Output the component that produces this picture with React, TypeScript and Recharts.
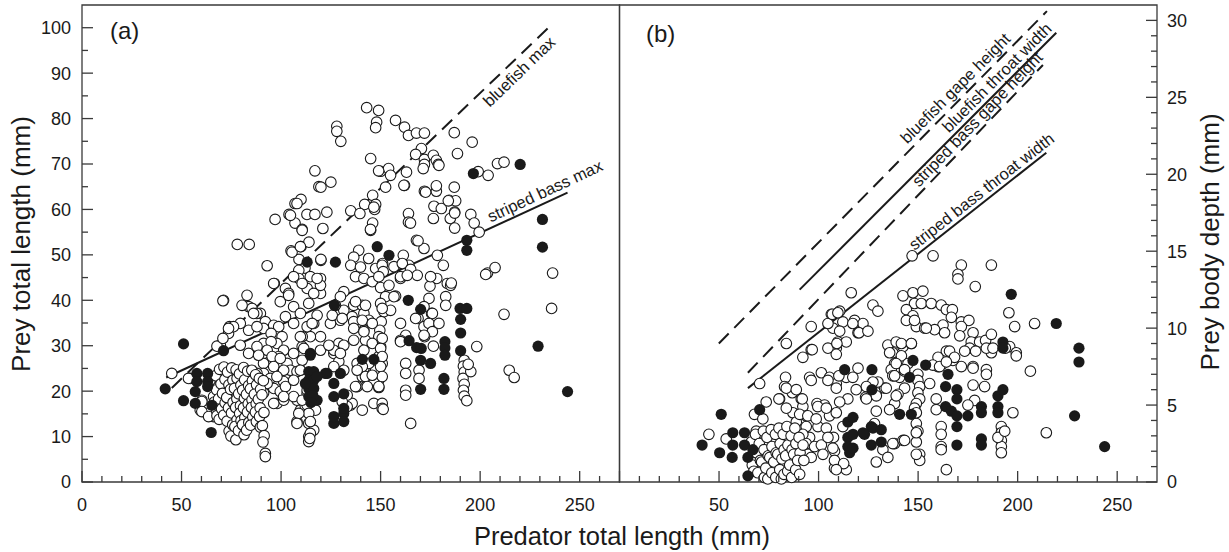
import React from "react";
import { ScatterChart, Scatter, XAxis, YAxis, ReferenceLine, ReferenceArea } from "recharts";

const W = 1229;
const H = 552;
const INK = "#1a1a1a";
const AX = "#3a3a3a";
const FONT = "'Liberation Sans', Arial, Helvetica, sans-serif";

// ticks
const xTicks = [0, 10, 20, 30, 40, 50, 60, 70, 80, 90, 100, 110, 120, 130, 140, 150, 160, 170, 180, 190, 200, 210, 220, 230, 240, 250, 260];
const xMajors = [0, 50, 100, 150, 200, 250];
const xLabelsA = [0, 50, 100, 150, 200, 250];
const xLabelsB = [50, 100, 150, 200, 250];
const yTicksA = [0, 5, 10, 15, 20, 25, 30, 35, 40, 45, 50, 55, 60, 65, 70, 75, 80, 85, 90, 95, 100];
const yLabelsA = [0, 10, 20, 30, 40, 50, 60, 70, 80, 90, 100];
const yTicksB = [0, 1, 2, 3, 4, 5, 6, 7, 8, 9, 10, 11, 12, 13, 14, 15, 16, 17, 18, 19, 20, 21, 22, 23, 24, 25, 26, 27, 28, 29, 30];
const yLabelsB = [0, 5, 10, 15, 20, 25, 30];

// (a) prey total length vs predator total length
const aOpen = [
  [117, 68.5], [119, 65], [107, 61.3], [110, 62.2], [97, 57.8], [104, 58.9], [107, 57], [110.6, 55.6], [113, 58.9], [117, 58.9],
  [78, 52.3], [84, 52.3], [105, 50.9], [110, 51.8], [114, 52.8], [93, 47.6], [109, 49], [112, 47.1], [120, 48.8],
  [143, 82.4], [149, 81.8], [128, 78.3], [128, 77.2], [130, 75], [148, 79.2], [147.5, 78], [157.5, 79.6], [162, 78.1], [164, 76.3],
  [168, 76.8], [172, 76.8], [187, 76.9], [196, 74.8], [170.5, 73.4], [167.6, 72.1], [172, 71], [176.5, 71.9], [178, 70.8], [179, 69.9],
  [172, 69.9], [171.4, 69], [188.6, 72.3], [145, 71.2], [125, 66], [120, 64.9], [150, 68.4], [154, 69], [155, 67.5], [163, 68.2],
  [162, 65.3], [152.5, 64.9], [146, 63.1], [142, 61.1], [147.5, 61.1], [147, 60], [135, 59.7], [139.6, 59.1], [123, 59.4], [110.6, 55.4],
  [121, 55.8], [146, 57], [145, 55.4], [164, 59.1], [164, 57.2], [172, 64], [178, 64], [178, 65.2], [187, 64.9], [184.4, 62],
  [187.7, 61.9], [176.8, 60.7], [180.5, 60.2], [187.2, 59.4], [176.5, 58], [185, 58], [187.2, 55.9], [195.3, 58.9], [197, 57], [199.5, 55],
  [199, 68.3], [204, 67.5], [208.7, 70.1], [212, 70.4], [236.4, 46], [203.7, 46], [207.5, 47.2], [168, 53.2], [171.8, 51.4], [178.5, 49.9],
  [181.5, 47.7], [164.2, 47.7], [161.4, 49.9], [120, 49], [139, 51], [136.5, 49.5], [135, 47.7], [144, 49.2], [151, 48.1], [156.7, 47.4],
  [149, 68.5], [179.3, 69.7], [161.7, 65.3], [172.6, 63.8], [184, 61.9], [187.2, 59.2], [165, 57], [146.6, 60.5], [144.9, 55.6], [168.8, 53.1],
  [139.9, 47.3], [137.4, 45.2], [141.6, 44.8], [145.8, 44.1], [147.5, 47], [150.8, 47.7], [151.3, 46.3], [149.1, 45.2], [160.9, 48.1], [165.1, 46.8],
  [168.4, 45.5], [160, 44.8], [157.5, 40.9], [150, 42.8], [152.5, 40.8], [150, 39.3], [151.7, 37.5], [150.3, 35.3], [149.6, 33.4], [149.1, 32],
  [150, 29.8], [149.1, 27.6], [150.8, 26.1], [147.5, 24.6], [149.1, 22.4], [149.1, 20.8],
  [114.7, 45.2], [119.8, 44.8], [119.8, 41.5], [131.5, 41.9], [136.5, 38.9], [140.8, 38.9], [131.5, 37.8], [135.7, 36.4], [141.6, 37.1], [144.1, 35.6],
  [141.6, 33.4], [136.5, 35.3], [129.8, 35.6], [124.8, 34.9], [116.4, 34.9], [118.1, 36.7], [125.7, 36.7],
  [129, 30.5], [131.5, 30.1], [136.5, 31.2], [142.4, 31.2], [145.8, 30.5], [141.6, 29],
  [126.5, 28.3], [129, 26.5], [131.5, 24.6], [138.2, 26.1], [141.6, 25], [144.1, 26.1], [143.3, 22.4], [146.6, 22.4], [138.2, 21], [140.8, 23.2],
  [146.6, 17.3], [150.8, 17.3], [150.8, 16.2], [134.9, 16.9],
  [160, 34.9], [162.6, 32.3], [168.8, 36], [171.8, 34.2], [174.3, 34.9], [176, 33.1], [179.3, 34.9], [172.1, 32],
  [174.3, 40.4], [175.6, 37.1], [183.5, 43.7], [182.7, 40.8], [182.7, 38.9], [185.2, 43.3], [178.2, 44.8], [174.8, 43.1],
  [192, 26.8], [191.6, 25.5], [192, 24.2], [191.4, 22.8], [192, 21.5], [191.6, 20.2], [192, 18.9], [195.3, 24.3], [194, 25.9], [193.3, 17.9],
  [162.6, 26.1], [162.6, 23.9], [169.3, 24.6], [169.3, 22.8], [162.6, 20.2], [162.6, 19.1], [165.1, 12.9], [198.3, 29.8], [160, 31.2], [155, 37.8],
  [156.7, 40.8], [154.2, 43.3], [160, 45.2], [163.4, 45.5], [175.1, 45.2], [185.5, 43.8],
  [202.8, 45.7], [212, 36.9], [235.9, 38.2], [214.6, 24.6], [217.1, 23], [176.5, 29.9], [167.6, 36], [171.8, 38.6], [176, 37.1], [171.8, 32.3],
  [160, 30.9], [151.3, 16], [109.7, 15.8], [113.9, 12.9], [113.9, 10], [113.9, 8.9], [117.3, 15.8], [116.4, 11.4],
  [129.8, 40.8], [127.3, 38.9], [130.7, 36], [137.4, 39.7], [142.4, 38.9], [140.8, 35.6], [136.5, 33.8], [141.6, 33.1], [145.8, 34.9], [150.8, 38.2],
  [150.8, 31.6], [150, 29.4], [150.8, 27.6], [150, 25.4], [150.8, 23.2], [149.1, 21], [140.8, 25.4], [142.4, 23.2], [137.4, 21], [145.8, 23.5],
  [143.3, 21], [138.2, 24.6], [126.5, 29], [129.8, 28.3], [126.5, 25.4], [119.8, 29], [124, 30.1], [119.8, 32], [112.2, 16.6], [135.7, 17.3],
  [140.8, 15.8], [133.2, 16.6], [133.2, 19.1], [130.7, 17.7], [119.8, 43.3],
  [104.7, 58.7], [108, 61.3], [105.5, 50.6], [109.7, 51.8], [108.9, 46.6], [108.9, 44.8], [113.1, 42.6], [118.1, 44.8], [96.6, 43.7], [102.2, 42.6],
  [103.8, 41.5], [71.1, 40], [82.9, 41.1], [83.7, 38.6], [89.6, 37.1], [92.1, 35.3], [91.2, 33.8], [96.3, 34.5], [98.8, 34.2], [74.1, 34.2],
  [73.6, 32.7], [69.5, 30.1], [79.5, 34.9], [85.4, 38.2], [87.9, 37.1],
  [91.2, 30.5], [91.2, 28.3], [91.2, 26.1], [91.2, 23.9], [91.2, 21.7], [91.2, 19.6],
  [100.5, 32], [97.9, 30.5], [101.3, 29], [98.8, 27.6], [103, 26.1], [106.3, 28.3], [110.6, 29.8], [104.7, 24.6], [110.6, 26.8], [108, 24.3],
  [114.7, 32], [113.1, 34.2], [110.6, 32],
  [87.9, 23.9], [94.6, 22.8], [96.3, 20.6], [101.3, 22.1], [99.6, 19.9], [98, 17.3], [101.3, 18], [108, 18], [113.1, 19.5], [113.1, 16.9],
  [113.9, 15.1], [114.7, 13.3], [114.7, 10.7], [114.4, 9.6], [108, 13.3], [108.9, 15.1], [92.1, 6.3], [92.1, 5.6],
  [45.1, 23.9], [54.4, 22.8], [60.2, 18], [59.4, 15.8], [62.8, 15.1], [66.9, 18.8], [67.8, 16.2], [66.1, 14.4],
  [95, 32.7], [95, 30.9], [93, 29], [95.5, 27.6], [96.3, 25.4], [99.6, 27.2], [101.3, 24.6], [97.9, 23.2], [102.2, 21], [106.3, 22.4],
  [109.7, 24.6], [106.3, 18.8], [110.6, 18], [113.1, 20.2], [101.3, 18.8], [96.3, 17.3], [93, 21.7], [108, 12.9],
  [96.3, 43.7], [99.6, 39.7], [103.8, 41.1], [106.3, 38.6], [102.2, 36.4], [106.3, 34.9], [109.7, 32], [111.4, 29.4], [115.6, 34.9], [109.7, 37.1],
  [113.9, 39.3], [116.4, 41.5], [110.6, 43.7], [106.3, 45.2],
  [86.2, 37.1], [83.7, 33.4], [87.9, 34.2], [76.1, 34.2], [80.4, 38.9], [70.8, 39.9], [67.8, 29.9], [70.8, 31.6], [79.5, 30.1], [83.7, 28.3],
  [87.9, 29.8], [88.7, 27.9], [53.5, 22.8], [60.2, 17.7], [60.2, 15.5], [63.6, 14.4], [64.4, 22.4], [66.1, 18.8], [69.5, 22.4], [67.8, 15.5],
  [70.3, 17.3], [74.5, 19.1], [72.8, 15.5], [73.6, 33.8],
  [67.2, 23.4], [67.6, 20.3], [66.5, 17.6], [67.8, 14.6], [69.1, 24.8], [69.8, 21.6], [68.6, 18.3], [70.1, 16.1], [68.9, 13.8],
  [71.3, 25.3], [71.8, 22.6], [70.6, 19.5], [71.9, 17.4], [71.2, 14.7], [73.1, 24.2], [73.8, 21.4], [72.7, 18.6], [73.6, 16.3], [72.9, 13.4], [73.9, 11.2],
  [75.2, 25.1], [75.8, 22.4], [74.6, 20.4], [75.9, 17.5], [75.1, 15.2], [75.7, 12.6], [74.8, 10.1], [77.4, 24.7], [77.9, 22.8], [76.6, 20.6], [77.8, 18.3],
  [77.2, 16.4], [77.9, 13.7], [76.8, 12.2], [77.3, 9.3], [79.1, 23.8], [79.8, 21.3], [78.7, 19.4], [79.6, 16.8], [79.2, 15.1], [79.9, 13.5], [78.6, 11.3],
  [81.2, 25.2], [81.7, 22.5], [80.7, 20.2], [81.6, 18.4], [81.1, 16.3], [81.8, 14.2], [80.6, 12.6], [81.4, 10.4], [83.2, 24.4], [83.7, 21.2], [82.6, 19.3],
  [83.5, 17.2], [83.1, 15.4], [83.8, 13.1], [82.7, 11.4], [85.3, 24.6], [85.6, 22.3], [84.6, 20.5], [85.4, 18.1], [85.1, 16.4], [85.8, 14.3], [84.7, 12.5],
  [87.2, 23.6], [87.7, 21.4], [86.6, 19.3], [87.5, 17.2], [87.1, 15.4], [87.6, 13.3], [89.1, 22.8], [89.7, 20.4], [88.6, 18.2], [89.5, 16.3], [89.2, 14.4], [89.6, 12.1],
  [91.1, 22.3], [90.4, 19.2], [91.4, 15.3], [90.6, 12.4], [91.5, 10.2], [90.9, 8.8],
];

const aFilled = [
  [113.1, 48.4], [127.3, 48.4], [148.3, 51.8], [154.2, 49.9], [196.6, 67.9], [220.1, 69.9], [231.3, 57.8], [231.3, 51.7], [193.3, 53.2], [193.3, 51],
  [126.8, 38.9], [163.9, 40], [170.1, 38], [164.3, 31.1], [168.1, 29.6], [170.4, 29.4], [170.1, 26.8], [175.1, 26.1], [170.1, 20.4], [182.3, 30.9],
  [182.3, 29.5], [182.3, 27.9], [181.8, 22.8], [181.8, 20.4], [189.9, 38.2], [190.2, 35.8], [190.2, 32.8], [190.2, 28.9], [193.3, 38.2], [229.1, 29.9],
  [243.9, 19.9], [126.5, 12.9], [126.5, 14.4], [131.5, 15.1], [131.5, 16.2], [131.5, 13.3], [126.5, 21.7], [126.5, 18.8], [131.5, 19.4], [129.8, 23.9],
  [122.3, 23.9], [114.7, 28.3], [140.8, 27], [146.6, 27], [123.1, 23.9],
  [113.9, 24.3], [116.4, 24.3], [113.9, 22.4], [116.4, 22.4], [113.9, 20.6], [116.4, 20.6], [118.1, 18], [113.9, 18.8], [112.2, 21.7], [118.1, 23.2],
  [116, 19], [115, 17.5], [51, 30.4], [41.8, 20.5], [51, 17.9], [57.7, 23.9], [63.1, 23.9], [57.7, 22.1], [63.1, 22.1], [56.9, 19.9],
  [63.1, 21], [56.9, 17.3], [65.3, 16.9], [71.1, 28.9], [64.9, 10.9], [114.7, 27.9],
];

const aBluefishMax = [[45.1, 20.7], [235.5, 100.5]];
const aStripedBassMax = [[42.3, 23.0], [243.9, 63.7]];
const aNoteText = ["bluefish max", "striped bass max"];
const aNoteAt = [[219.5, 90.4], [232.5, 64.1]];
const aNoteAngle = [-44, -25];

// (b) prey body depth vs predator total length
const bOpen = [
  [116.4, 12.3], [127.3, 11.5], [129.8, 11.1], [142.4, 12.1], [147.4, 12.3], [148.2, 11.6], [152.4, 12.4], [151.6, 11.6], [144.1, 11.2], [147.4, 10.8],
  [144.1, 10.5], [149.1, 10.1], [153.3, 10], [147, 14.7], [157.5, 14.7], [171.7, 14.1], [170, 13.5], [186.8, 14.1], [170, 13.2], [178.7, 12.7],
  [156.6, 11.6], [161.6, 11.5], [164.2, 11.2], [167.2, 11.2], [195.6, 11], [208.5, 10.3], [198.5, 10.1], [166.7, 10.7], [171.7, 10.4], [175.5, 10.5],
  [171.7, 10.1], [162.5, 10.2], [158.3, 9.9], [154.1, 10], [148.2, 10.5],
  [177.6, 9.7], [176.7, 9.1], [175.9, 8.7], [180.9, 9.1], [183.9, 9.2], [186.8, 9.6], [186.8, 8.4], [184.3, 8.7], [178.9, 8.5], [196, 8.8],
  [199.3, 8.4], [199.3, 8.2], [206.4, 7.2], [184.3, 7.3], [184.3, 7], [177.6, 7.5], [171.7, 7.5], [167.5, 7.9], [164.2, 8.5], [160, 7.5],
  [162.5, 7.7], [170.9, 9.5], [163.3, 9.7], [187.6, 8.7], [193.8, 8.7], [173.4, 8.5], [165.8, 8.5], [168.3, 8.1], [160, 8.1],
  [134.8, 8.9], [139, 9.1], [142.4, 8.8], [146.6, 9], [137.3, 8.4], [141.6, 8.2], [144.9, 7.7], [138.2, 7.7], [136.5, 7.3], [137.3, 6.9],
  [140.7, 6.8], [143.2, 7.2], [149.9, 7], [149.9, 6.6], [150.8, 6.2], [149.9, 5.8], [150.8, 5.4], [149.1, 5.1], [148.2, 4.8], [149.1, 3.8],
  [149.9, 3.3], [149.1, 2.6], [150.8, 1.8], [150.8, 1.4], [143.2, 6.1], [139.9, 5.7], [138.2, 5.1], [135.7, 4.7], [129, 5.8], [133.2, 6.1],
  [129.8, 6.5], [129, 4.6], [128.1, 3.8], [132.3, 2.1], [129, 1.3], [134.8, 1.6], [138.2, 2.5], [142.4, 2.7], [155.8, 6.4], [159.1, 5.4],
  [159.1, 4.7], [161.6, 3.6], [161.6, 3.1], [161.6, 2.3], [161.6, 2.1], [157.4, 7.6], [160.8, 7.5], [164.2, 7.8], [177.6, 7.4], [183.4, 6.2],
  [177.6, 6.3], [178.4, 5.3], [175, 5], [191.8, 3.6], [191.8, 3.2], [191.8, 2.7], [191.8, 2.3], [191.8, 1.9], [190.1, 2.9], [193.5, 3.3],
  [197.6, 4.5], [214.4, 3.2], [164.2, 0.8],
  [106.4, 10.9], [110.6, 11.1], [112.2, 10.4], [118.1, 10.5], [122.3, 10.3], [119.8, 9.7], [107.2, 10], [110.6, 9.8], [109.7, 9.1], [113.9, 9.1],
  [108.9, 8.7], [104.7, 8.7], [96.3, 10.1], [104.7, 10.3], [83.8, 9], [92.1, 8.1], [96.3, 8.6], [95.5, 6.8], [101.4, 7.1], [105.5, 6.8],
  [108.9, 6.4], [113.9, 6.8], [119.8, 7.4], [127.3, 6.5], [124, 6.2], [129, 5.6], [134, 6.1], [123.6, 5.5], [141.6, 9], [146.6, 9],
  [135.7, 8.4], [139, 7.7], [143.2, 7.3], [138.2, 6.9], [139, 5.6], [137.3, 2.5], [143.2, 2.7], [149.1, 4.5], [149.1, 3.2], [149.1, 1.8],
  [44.9, 3.1], [53.6, 2.8], [70.4, 6.4], [73.7, 5.2], [67.8, 4.4], [72, 4.1], [83.4, 6.8], [82.9, 6.2], [86.8, 5.8], [80.4, 5.4],
  [91.3, 5.4], [92.1, 4.9], [87.1, 4.5], [88.8, 3.9], [93.8, 4.3], [93.8, 3.6], [99.2, 5.1], [103, 5], [95.5, 2.9], [99.7, 3.6],
  [105.5, 4.3], [103.9, 3.5], [107.5, 2.9], [112.2, 3.6], [108, 2], [108, 0.9], [113.9, 0.8], [94.6, 1.8], [71.2, 3.2], [77, 2.9],
  [96.8, 8.6], [106.9, 10.9], [109.7, 11], [117.2, 10.3], [120.3, 9.7], [124.8, 9.8], [109.2, 9], [108.9, 8.3], [96.3, 6.6], [104.7, 6.6],
  [110.2, 6.9], [117.2, 6.8], [108.9, 6.1], [114.7, 5.4], [118.9, 6], [124, 5.4], [83.8, 6.1], [88.8, 6], [91.8, 5.4], [80.1, 5.4],
  [83.8, 4.8], [90.5, 4.4], [94.6, 4.3], [98.8, 4.1], [99.6, 4.9], [103.9, 4.8], [108.9, 4.5], [110.6, 5.2], [68.7, 3.3], [92.1, 3.1],
  [93.8, 2.5], [98, 2.3], [101.4, 2.4], [104.7, 2.9], [107.2, 2.2], [108, 1.4], [112.6, 1.2], [108.9, 0.8], [102.2, 1.8], [96.3, 1.6],
  [87.9, 1], [89.6, 0.5],
  [66.2, 2.6], [66.7, 1.1], [68.3, 3.1], [68.7, 1.9], [67.5, 0.7], [70.2, 2.5], [70.8, 1.4], [69.5, 0.6], [72.3, 3.3], [72.6, 2.1], [71.4, 1.3],
  [72.8, 0.3], [74.1, 2.9], [74.7, 1.7], [73.5, 0.9], [74.5, 0.2], [76.2, 3.4], [76.6, 2.3], [75.5, 1.6], [76.5, 0.6], [78.3, 3.1], [78.7, 1.9],
  [77.5, 1.3], [78.5, 0.3], [80.1, 3.5], [80.7, 2.5], [79.5, 1.8], [80.5, 0.8], [81.3, 0.2], [82.2, 3.1], [82.7, 2.1], [81.6, 1.5], [82.6, 0.5],
  [84.1, 3.6], [84.6, 2.4], [83.5, 1.7], [84.5, 0.7], [86.2, 3], [86.7, 2.1], [85.5, 1.1], [86.5, 0.3], [88.1, 3.5], [88.6, 2.5], [87.5, 1.8],
  [88.5, 0.8], [90.2, 2.9], [90.7, 1.9], [89.5, 1.4], [90.5, 0.5], [92.2, 2.4], [92.6, 1.4],
];

const bFilled = [
  [51.1, 4.4], [41.5, 2.4], [50.3, 1.9], [56.9, 3.2], [62.8, 3.2], [56.9, 2.4], [62.8, 2.4], [56.6, 1.6], [64.5, 1.6], [67, 2.1],
  [64.5, 0.4], [70.4, 4.7], [113.1, 7.3], [126.8, 7.3], [126.8, 6], [114.7, 3.9], [114.7, 2.9], [114.7, 2.3], [115.6, 1.9], [117.3, 4.2],
  [117.3, 3.1], [117.3, 2.2], [123.1, 3.1], [127.3, 3.5], [126.5, 2.4], [126.5, 3.6], [131.5, 3.4], [131.5, 2.6], [122.3, 3.2], [140.7, 4.4],
  [146.6, 4.4], [147.4, 7.9], [153.8, 7.6], [145.7, 6.8], [165, 7], [163.8, 6.2], [169.5, 6], [169.5, 5.4], [163.8, 4.9], [166.7, 4.6],
  [169.5, 4.3], [169.5, 3.6], [175, 4.3], [181.8, 4.9], [181.8, 4.5], [181.8, 2.8], [181.8, 2.4], [169.5, 2.4], [190.1, 5.6], [190.1, 4.9],
  [190.1, 4.5], [192.6, 6], [192.6, 9.1], [192.6, 8.7], [196.8, 12.2], [219.4, 10.3], [230.8, 8.7], [230.8, 7.8], [228.6, 4.3], [243.7, 2.3],
];

const bBluefishGape = [[49.9, 9.0], [214.7, 30.6]];
const bBluefishThroat = [[90.5, 12.5], [219.4, 29.2]];
const bStripedGape = [[64.5, 7.1], [212.7, 27.1]];
const bStripedThroat = [[64.5, 6.1], [214.4, 21.4]];
const bNoteText = ["bluefish gape height", "bluefish throat width", "striped bass gape height", "striped bass throat width"];
const bNoteAt = [[168.6, 25.6], [189.4, 26.3], [179.6, 23.6], [181.7, 18.9]];
const bNoteAngle = [-45, -45, -46, -38];

const pts = (a: number[][]) => a.map(([x, y]) => ({ x, y }));
const notes = (t: string[], at: number[][], ang: number[]) =>
  t.map((text, i) => ({ x: at[i][0], y: at[i][1], text, angle: ang[i] }));

const openDot = (p: any) => <circle cx={p.cx} cy={p.cy} r={5.3} fill="#fff" stroke={INK} strokeWidth={1.1} />;
const fillDot = (p: any) => <circle cx={p.cx} cy={p.cy} r={5.6} fill={INK} />;
const noteShape = (p: any) => {
  const d = p.payload;
  return (
    <text x={p.cx} y={p.cy} transform={`rotate(${d.angle} ${p.cx} ${p.cy})`} textAnchor="middle" dominantBaseline="central"
      fontSize={16.5} fontFamily={FONT} fill={INK}>{d.text}</text>
  );
};

const tickFn = (side: "left" | "right" | "bottom", majors: number[], labels: number[]) => (p: any) => {
  const v = p.payload?.value;
  const len = majors.includes(v) ? 11 : 6;
  const show = labels.includes(v);
  const txt = { fontSize: 18, fontFamily: FONT, fill: INK };
  if (side === "bottom") {
    return (
      <g>
        <line x1={p.x} x2={p.x} y1={p.y} y2={p.y - len} stroke={AX} strokeWidth={1.3} />
        {show && <text x={p.x} y={p.y + 29} textAnchor="middle" {...txt}>{v}</text>}
      </g>
    );
  }
  if (side === "left") {
    return (
      <g>
        <line x1={p.x} x2={p.x + len} y1={p.y} y2={p.y} stroke={AX} strokeWidth={1.3} />
        {show && <text x={p.x - 11} y={p.y} dy="0.36em" textAnchor="end" {...txt}>{v}</text>}
      </g>
    );
  }
  return (
    <g>
      <line x1={p.x} x2={p.x - len} y1={p.y} y2={p.y} stroke={AX} strokeWidth={1.3} />
      {show && <text x={p.x + 10} y={p.y} dy="0.36em" textAnchor="start" {...txt}>{v}</text>}
    </g>
  );
};

const lineStyle = { stroke: INK, strokeWidth: 2, ifOverflow: "visible" as const };
const DASH = "14 8";

function PanelA() {
  return (
    <ScatterChart width={W} height={H} margin={{ top: 5, right: 609.5, bottom: 0, left: 0 }}>
      <XAxis dataKey="x" type="number" domain={[0, 270]} ticks={xTicks} interval={0} height={70} axisLine={false}
        tickLine={false} tickSize={0} tickMargin={0} tick={tickFn("bottom", xMajors, xLabelsA)} />
      <YAxis dataKey="y" type="number" domain={[0, 105]} ticks={yTicksA} interval={0} width={82} axisLine={false}
        tickLine={false} tickSize={0} tickMargin={0} tick={tickFn("left", yLabelsA, yLabelsA)} />
      <ReferenceArea x1={0} x2={270} y1={0} y2={105} fill="none" fillOpacity={0} stroke={AX} strokeWidth={1.3} />
      <Scatter data={pts(aOpen)} shape={openDot} isAnimationActive={false} />
      <Scatter data={pts(aFilled)} shape={fillDot} isAnimationActive={false} />
      <ReferenceLine segment={pts(aBluefishMax)} {...lineStyle} strokeDasharray={DASH} />
      <ReferenceLine segment={pts(aStripedBassMax)} {...lineStyle} />
      <Scatter data={notes(aNoteText, aNoteAt, aNoteAngle)} shape={noteShape} isAnimationActive={false} />
    </ScatterChart>
  );
}

function PanelB() {
  return (
    <ScatterChart width={W} height={H} margin={{ top: 5, right: 0, bottom: 0, left: 609.5 }}>
      <XAxis dataKey="x" type="number" domain={[0, 270]} ticks={xTicks} interval={0} height={70} axisLine={false}
        tickLine={false} tickSize={0} tickMargin={0} tick={tickFn("bottom", xMajors, xLabelsB)} />
      <YAxis yAxisId="l" orientation="left" type="number" domain={[0, 31]} ticks={yTicksB} interval={0} width={10}
        axisLine={false} tickLine={false} tickSize={0} tickMargin={0} tick={tickFn("left", yLabelsB, [])} />
      <YAxis yAxisId="r" orientation="right" dataKey="y" type="number" domain={[0, 31]} ticks={yTicksB} interval={0} width={72}
        axisLine={false} tickLine={false} tickSize={0} tickMargin={0} tick={tickFn("right", yLabelsB, yLabelsB)} />
      <ReferenceArea yAxisId="r" x1={0} x2={270} y1={0} y2={31} fill="none" fillOpacity={0} stroke={AX} strokeWidth={1.3} />
      <Scatter yAxisId="r" data={pts(bOpen)} shape={openDot} isAnimationActive={false} />
      <Scatter yAxisId="r" data={pts(bFilled)} shape={fillDot} isAnimationActive={false} />
      <ReferenceLine yAxisId="r" segment={pts(bBluefishGape)} {...lineStyle} strokeDasharray={DASH} />
      <ReferenceLine yAxisId="r" segment={pts(bBluefishThroat)} {...lineStyle} />
      <ReferenceLine yAxisId="r" segment={pts(bStripedGape)} {...lineStyle} strokeDasharray={DASH} />
      <ReferenceLine yAxisId="r" segment={pts(bStripedThroat)} {...lineStyle} />
      <Scatter yAxisId="r" data={notes(bNoteText, bNoteAt, bNoteAngle)} shape={noteShape} isAnimationActive={false} />
    </ScatterChart>
  );
}

export default function App() {
  const abs = { position: "absolute" as const, left: 0, top: 0 };
  return (
    <div style={{ ...abs, width: W, height: H, background: "#fff", overflow: "hidden" }}>
      <div style={abs}><PanelA /></div>
      <div style={abs}><PanelB /></div>
      <svg style={{ ...abs, pointerEvents: "none" }} width={W} height={H}>
        <g fontFamily={FONT} fill={INK}>
          <text x={110} y={39} fontSize={24}>(a)</text>
          <text x={646} y={42} fontSize={24}>(b)</text>
          <text x={30} y={244} fontSize={26} textAnchor="middle" transform="rotate(-90 30 244)">Prey total length (mm)</text>
          <text x={1219} y={242} fontSize={26} textAnchor="middle" transform="rotate(-90 1219 242)">Prey body depth (mm)</text>
          <text x={622} y={545} fontSize={25.5} textAnchor="middle">Predator total length (mm)</text>
        </g>
      </svg>
    </div>
  );
}
